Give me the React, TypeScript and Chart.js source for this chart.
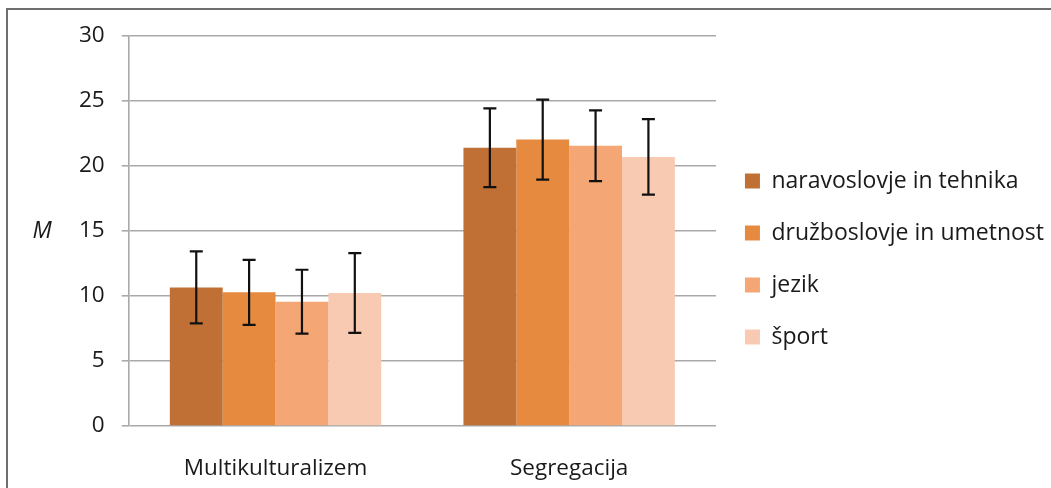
import React, { useEffect, useRef } from "react";
import { Chart, registerables } from "chart.js";

Chart.register(...registerables);

const categories = ["Multikulturalizem", "Segregacija"];
const seriesNames = ["naravoslovje in tehnika", "družboslovje in umetnost", "jezik", "šport"];
const naravoslovje = [10.66, 21.4];
const druzboslovje = [10.28, 22.03];
const jezik = [9.56, 21.56];
const sport = [10.23, 20.7];
const naravoslovjeErr = [2.77, 3.03];
const druzboslovjeErr = [2.5, 3.08];
const jezikErr = [2.46, 2.72];
const sportErr = [3.07, 2.9];
const yTicks = [0, 5, 10, 15, 20, 25, 30];
const colors = ["#c07034", "#e68a40", "#f4a775", "#f8cab2"];

const FONT = "'Open Sans', sans-serif";

const errorBarPlugin = {
  id: "errorBars",
  afterDatasetsDraw(chart: any) {
    const ctx = chart.ctx;
    const yScale = chart.scales.y;
    ctx.save();
    ctx.strokeStyle = "#111";
    ctx.lineWidth = 2.2;
    chart.data.datasets.forEach((ds: any, di: number) => {
      const meta = chart.getDatasetMeta(di);
      meta.data.forEach((el: any, i: number) => {
        const v = ds.data[i];
        const e = ds.errors[i];
        const x = el.x;
        const yt = yScale.getPixelForValue(v + e);
        const yb = yScale.getPixelForValue(v - e);
        const cap = 6.5;
        ctx.beginPath();
        ctx.moveTo(x, yt);
        ctx.lineTo(x, yb);
        ctx.moveTo(x - cap, yt);
        ctx.lineTo(x + cap, yt);
        ctx.moveTo(x - cap, yb);
        ctx.lineTo(x + cap, yb);
        ctx.stroke();
      });
    });
    ctx.restore();
  },
};

const axisLabelPlugin = {
  id: "axisLabelM",
  afterDraw(chart: any) {
    const ctx = chart.ctx;
    const area = chart.chartArea;
    ctx.save();
    ctx.font = `italic 23px ${FONT}`;
    ctx.fillStyle = "#1a1a1a";
    ctx.textAlign = "center";
    ctx.textBaseline = "middle";
    ctx.fillText("M", 42, (area.top + area.bottom) / 2);
    ctx.restore();
  },
};

export default function App() {
  const ref = useRef<HTMLCanvasElement>(null);
  useEffect(() => {
    if (!ref.current) return;
    const values = [naravoslovje, druzboslovje, jezik, sport];
    const errs = [naravoslovjeErr, druzboslovjeErr, jezikErr, sportErr];
    const chart = new Chart(ref.current, {
      type: "bar",
      data: {
        labels: categories,
        datasets: seriesNames.map((name, i) => ({
          label: name,
          data: values[i],
          errors: errs[i],
          backgroundColor: colors[i],
          borderWidth: 0,
          barPercentage: 1,
          categoryPercentage: 0.72,
        })) as any,
      },
      options: {
        animation: false,
        responsive: true,
        maintainAspectRatio: false,
        layout: { padding: { left: 62, top: 36, bottom: 0, right: 4 } },
        plugins: {
          tooltip: { enabled: false },
          legend: {
            position: "right",
            fullSize: false,
            maxWidth: 500,
            title: { display: true, text: "", font: { size: 1 }, padding: { top: 54.8, bottom: 0 } },
            labels: {
              boxWidth: 15,
              boxHeight: 15,
              padding: 29,
              color: "#1a1a1a",
              font: { family: FONT, size: 23 },
            },
          },
        },
        scales: {
          x: {
            grid: { display: false, drawTicks: false },
            border: { display: false },
            ticks: { color: "#1a1a1a", font: { family: FONT, size: 22.5 }, padding: 29 },
          },
          y: {
            min: 0,
            max: 30,
            afterBuildTicks: (axis: any) => {
              axis.ticks = yTicks.map((v) => ({ value: v }));
            },
            grid: { color: "#a9a9a9", lineWidth: 1.6, tickLength: 7 },
            border: { display: true, color: "#a9a9a9", width: 1.6 },
            ticks: { color: "#1a1a1a", font: { family: FONT, size: 22.5 }, padding: 17 },
          },
        },
      },
      plugins: [errorBarPlugin, axisLabelPlugin],
    });
    return () => chart.destroy();
  }, []);

  return (
    <div style={{ position: "absolute", left: 0, top: 0, width: 1051, height: 488, overflow: "hidden", background: "#fff" }}>
      <div style={{ position: "absolute", left: 6, top: 8, width: 1100, height: 600, borderLeft: "2px solid #6e6e6e", borderTop: "2px solid #6e6e6e" }} />
      <div style={{ position: "absolute", left: 0, top: 0, width: 1058, height: 511 }}>
        <canvas ref={ref} />
      </div>
    </div>
  );
}
